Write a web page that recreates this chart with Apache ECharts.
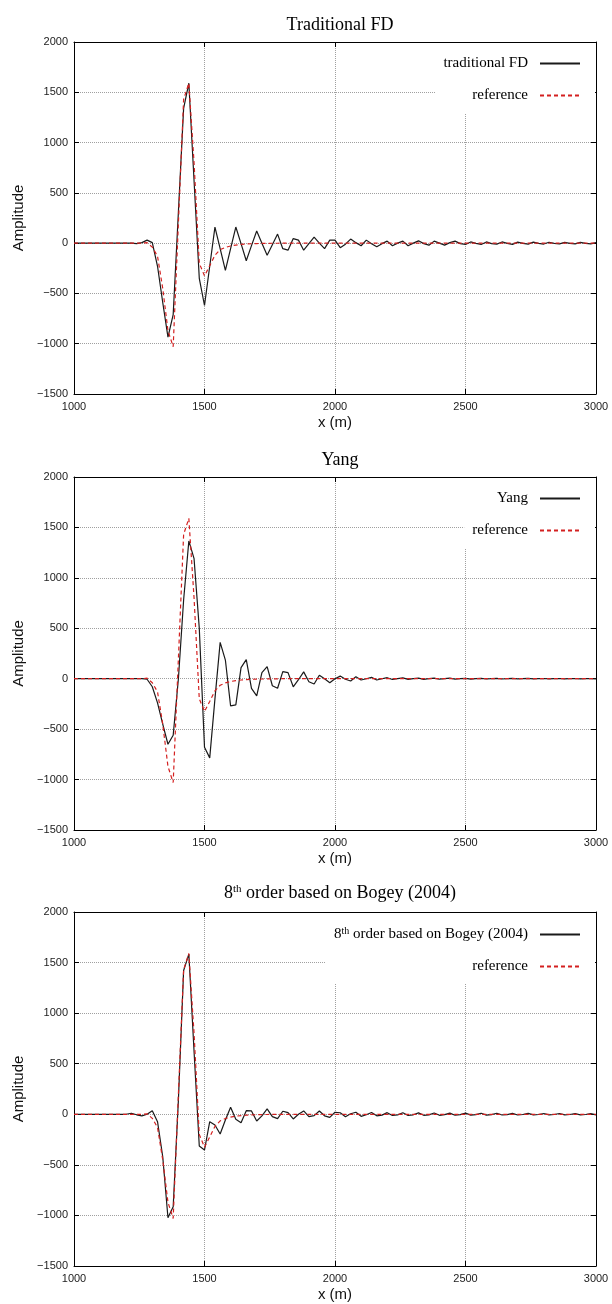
<!DOCTYPE html>
<html>
<head>
<meta charset="utf-8">
<script src="https://cdn.jsdelivr.net/npm/echarts@6/dist/echarts.min.js"></script>
<style>
  html, body { margin: 0; padding: 0; background: #fff; }
  #main { width: 612px; height: 1304px; }
</style>
</head>
<body>
<div id="main"></div>
<script>
// sample positions (m), every 20 m
const xValues = [
    1000, 1020, 1040, 1060, 1080, 1100, 1120, 1140, 1160, 1180,
    1200, 1220, 1240, 1260, 1280, 1300, 1320, 1340, 1360, 1380,
    1400, 1420, 1440, 1460, 1480, 1500, 1520, 1540, 1560, 1580,
    1600, 1620, 1640, 1660, 1680, 1700, 1720, 1740, 1760, 1780,
    1800, 1820, 1840, 1860, 1880, 1900, 1920, 1940, 1960, 1980,
    2000, 2020, 2040, 2060, 2080, 2100, 2120, 2140, 2160, 2180,
    2200, 2220, 2240, 2260, 2280, 2300, 2320, 2340, 2360, 2380,
    2400, 2420, 2440, 2460, 2480, 2500, 2520, 2540, 2560, 2580,
    2600, 2620, 2640, 2660, 2680, 2700, 2720, 2740, 2760, 2780,
    2800, 2820, 2840, 2860, 2880, 2900, 2920, 2940, 2960, 2980,
    3000
];

const referenceAmp = [
    0, 0, 0, 0, 0, 0, 0, 0, 0, 0,
    0, 0, 0, 0, 5, -40, -130, -450, -870, -1030,
    200, 1430, 1590, 800, -200, -325, -225, -120, -65, -42,
    -28, -19, -13, -9, -6, -4, -3, -2, -1, -1,
    0, 0, 0, 0, 0, 0, 0, 0, 0, 0,
    0, 0, 0, 0, 0, 0, 0, 0, 0, 0,
    0, 0, 0, 0, 0, 0, 0, 0, 0, 0,
    0, 0, 0, 0, 0, 0, 0, 0, 0, 0,
    0, 0, 0, 0, 0, 0, 0, 0, 0, 0,
    0, 0, 0, 0, 0, 0, 0, 0, 0, 0,
    0
];

const traditionalAmp = [
    0, 0, 0, 0, 0, 0, 0, 0, 0, 0,
    0, 0, -5, 5, 30, 5, -230, -590, -935, -710,
    310, 1340, 1590, 620, -350, -620, -230, 160, -55, -270,
    -55, 160, -5, -175, -25, 120, 0, -120, -15, 90,
    -55, -70, 45, 30, -70, -5, 60, 0, -55, 30,
    30, -45, -10, 40, 5, -26, 30, -5, -36, -5,
    20, -26, 0, 20, -26, 0, 23, -5, -20, 20,
    0, -20, 5, 20, -5, -13, 12, -2, -13, 12,
    -5, -10, 12, -2, -12, 10, -3, -10, 10, -2,
    -9, 9, -3, -8, 8, -2, -8, 7, -3, -7,
    5
];

const yangAmp = [
    0, 0, 0, 0, 0, 0, 0, 0, 0, 0,
    0, 0, 0, 0, -5, -80, -240, -450, -650, -560,
    0, 780, 1366, 1190, 500, -680, -785, -200, 360, 185,
    -270, -260, 110, 190, -95, -170, 60, 120, -70, -95,
    70, 60, -80, -10, 68, -30, -53, 35, 0, -40,
    0, 26, -5, -23, 20, -13, 0, 13, -13, 0,
    10, -8, 0, 8, -7, 0, 6, -6, 0, 5,
    -5, 0, 5, -4, 0, 4, -4, 0, 3, -3,
    0, 3, -3, 0, 3, -2, 0, 3, -2, 0,
    2, -2, 0, 2, -2, 0, 2, -2, 0, 1,
    -1
];

const bogeyAmp = [
    0, 0, 0, 0, 0, 0, 0, 0, 0, 0,
    0, 10, -5, -16, 0, 36, -73, -420, -1023, -914,
    140, 1422, 1584, 620, -313, -353, -73, -106, -195, -56,
    69, -50, -83, 36, 33, -66, -16, 53, -23, -43,
    30, 16, -46, 0, 33, -23, -13, 33, -15, -30,
    20, 15, -25, 5, 20, -20, -5, 18, -15, -8,
    16, -12, -6, 15, -12, -5, 14, -10, -6, 13,
    -10, -4, 12, -9, -4, 11, -8, -4, 10, -8,
    -3, 10, -7, -3, 9, -7, -2, 9, -6, -2,
    8, -6, -2, 8, -6, -2, 7, -5, -2, 7,
    -5
];

const panelTitles  = ['Traditional FD', 'Yang', '8{sup|th} order based on Bogey (2004)'];
const schemeNames  = ['traditional FD', 'Yang', '8th order based on Bogey (2004)'];
const schemeData   = [traditionalAmp, yangAmp, bogeyAmp];
const xTicks       = { min: 1000, max: 3000, interval: 500 };
const yTicks       = { min: -1500, max: 2000, interval: 500 };

const SANS  = 'Liberation Sans';
const SERIF = 'Liberation Serif';
const panels = [
    { top: 42,  height: 352, titleTop: 11 },
    { top: 477, height: 353, titleTop: 446 },
    { top: 912, height: 354, titleTop: 879 }
];

function pairs(arr) {
    return xValues.map((x, i) => [x, arr[i]]);
}
function plainNumber(v) {
    return String(v).replace('-', '\u2212');
}

const grid = [], xAxis = [], yAxis = [], series = [], title = [], legend = [];
const tick = { inside: true, length: 5, lineStyle: { color: '#000', width: 1 } };
const border = { show: true, onZero: false, lineStyle: { color: '#000', width: 1 } };
const dotted = { show: true, lineStyle: { type: 'dotted', color: '#a0a0a0', width: 1 } };

panels.forEach((p, k) => {
    grid.push({ left: 74, width: 522, top: p.top, height: p.height });

    xAxis.push({
        type: 'value', gridIndex: k, position: 'bottom', ...xTicks,
        axisLine: border, axisTick: tick, splitLine: dotted,
        axisLabel: { margin: 7, fontFamily: SANS, fontSize: 11, color: '#222', formatter: plainNumber, showMinLabel: true, showMaxLabel: true },
        name: 'x (m)', nameLocation: 'middle', nameGap: 21,
        nameTextStyle: { fontFamily: SANS, fontSize: 15, color: '#111' }
    });
    xAxis.push({
        type: 'value', gridIndex: k, position: 'top', ...xTicks,
        axisLine: border, axisTick: tick, axisLabel: { show: false }, splitLine: { show: false }
    });

    yAxis.push({
        type: 'value', gridIndex: k, position: 'left', ...yTicks,
        axisLine: border, axisTick: tick, splitLine: dotted,
        axisLabel: { margin: 6, fontFamily: SANS, fontSize: 11, color: '#222', formatter: plainNumber, showMinLabel: true, showMaxLabel: true },
        name: 'Amplitude', nameLocation: 'middle', nameGap: 48, nameRotate: 90,
        nameTextStyle: { fontFamily: SANS, fontSize: 15, color: '#111' }
    });
    yAxis.push({
        type: 'value', gridIndex: k, position: 'right', ...yTicks,
        axisLine: border, axisTick: tick, axisLabel: { show: false }, splitLine: { show: false }
    });

    series.push({
        name: schemeNames[k], type: 'line', xAxisIndex: 2 * k, yAxisIndex: 2 * k,
        data: pairs(schemeData[k]), symbol: 'none', showSymbol: false,
        lineStyle: { color: '#1a1a1a', width: 1.2 }, itemStyle: { color: '#1a1a1a' }, z: 3
    });
    series.push({
        name: 'reference', type: 'line', xAxisIndex: 2 * k, yAxisIndex: 2 * k,
        data: pairs(referenceAmp), symbol: 'none', showSymbol: false,
        lineStyle: { color: '#d42020', width: 1.2, type: [4, 3] }, itemStyle: { color: '#d42020' }, z: 4
    });

    title.push({
        text: panelTitles[k], left: 335, top: p.titleTop, textAlign: 'center',
        textStyle: {
            fontFamily: SERIF, fontSize: 18, fontWeight: 'normal', color: '#000',
            rich: { sup: { fontFamily: SERIF, fontSize: 11, padding: [0, 0, 8, 0], color: '#000' } }
        }
    });

    legend.push({
        data: [schemeNames[k], 'reference'],
        orient: 'vertical', align: 'right', right: 17, top: p.top + 1,
        itemWidth: 40, itemHeight: 14, itemGap: 17,
        itemStyle: { opacity: 0 },
        backgroundColor: '#fff', padding: [13, 14, 10, 8],
        selectedMode: false,
        formatter: name => name.replace(/^8th/, '8{sup|th}'),
        textStyle: {
            fontFamily: SERIF, fontSize: 15, color: '#000', padding: [0, 7, 0, 0],
            rich: { sup: { fontFamily: SERIF, fontSize: 10, padding: [0, 0, 7, 0], color: '#000' } }
        }
    });
});

const chart = echarts.init(document.getElementById('main'));
chart.setOption({
    animation: false,
    backgroundColor: '#fff',
    title: title,
    legend: legend,
    grid: grid,
    xAxis: xAxis,
    yAxis: yAxis,
    series: series
});
</script>
</body>
</html>
